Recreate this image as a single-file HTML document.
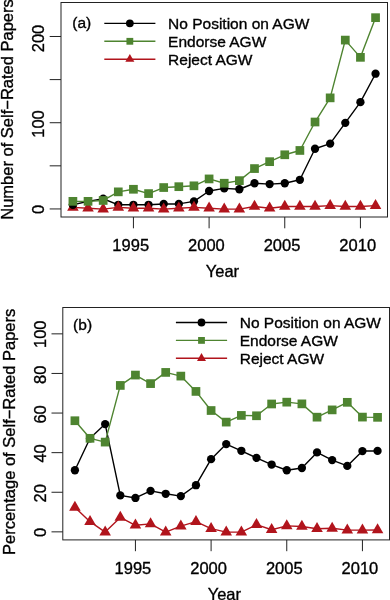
<!DOCTYPE html>
<html><head><meta charset="utf-8"><style>
html,body{margin:0;padding:0;background:#fff;width:390px;height:600px;overflow:hidden}
svg{display:block;will-change:transform}
text{font-family:"Liberation Sans",sans-serif}
</style></head><body>
<svg width="390" height="600" viewBox="0 0 390 600" font-family='"Liberation Sans", sans-serif' fill="#000">
<style>text{stroke:#000;stroke-width:0.35px}</style>
<polyline points="72.9,204.79 88.03,201.34 103.17,198.75 118.3,204.79 133.43,204.79 148.56,204.79 163.7,203.93 178.83,203.93 193.96,201.34 209.1,190.99 224.23,188.4 239.36,189.27 254.5,183.23 269.63,184.09 284.76,183.23 299.89,179.78 315.03,148.74 330.16,143.57 345.29,122.87 360.43,102.17 375.56,73.72" fill="none" stroke="#000" stroke-width="1.4" stroke-linejoin="round"/>
<circle cx="72.9" cy="204.79" r="4.15" fill="#000"/>
<circle cx="88.03" cy="201.34" r="4.15" fill="#000"/>
<circle cx="103.17" cy="198.75" r="4.15" fill="#000"/>
<circle cx="118.3" cy="204.79" r="4.15" fill="#000"/>
<circle cx="133.43" cy="204.79" r="4.15" fill="#000"/>
<circle cx="148.56" cy="204.79" r="4.15" fill="#000"/>
<circle cx="163.7" cy="203.93" r="4.15" fill="#000"/>
<circle cx="178.83" cy="203.93" r="4.15" fill="#000"/>
<circle cx="193.96" cy="201.34" r="4.15" fill="#000"/>
<circle cx="209.1" cy="190.99" r="4.15" fill="#000"/>
<circle cx="224.23" cy="188.4" r="4.15" fill="#000"/>
<circle cx="239.36" cy="189.27" r="4.15" fill="#000"/>
<circle cx="254.5" cy="183.23" r="4.15" fill="#000"/>
<circle cx="269.63" cy="184.09" r="4.15" fill="#000"/>
<circle cx="284.76" cy="183.23" r="4.15" fill="#000"/>
<circle cx="299.89" cy="179.78" r="4.15" fill="#000"/>
<circle cx="315.03" cy="148.74" r="4.15" fill="#000"/>
<circle cx="330.16" cy="143.57" r="4.15" fill="#000"/>
<circle cx="345.29" cy="122.87" r="4.15" fill="#000"/>
<circle cx="360.43" cy="102.17" r="4.15" fill="#000"/>
<circle cx="375.56" cy="73.72" r="4.15" fill="#000"/>
<polyline points="72.9,207.38 88.03,208.24 103.17,209.1 118.3,207.38 133.43,208.24 148.56,208.24 163.7,209.1 178.83,208.24 193.96,207.38 209.1,208.24 224.23,209.1 239.36,209.1 254.5,206.51 269.63,208.24 284.76,206.51 299.89,206.51 315.03,206.51 330.16,205.65 345.29,206.51 360.43,206.51 375.56,205.65" fill="none" stroke="#b1141c" stroke-width="1.4" stroke-linejoin="round"/>
<polygon points="72.9,200.7 78.68,210.71 67.12,210.71" fill="#b1141c"/>
<polygon points="88.03,201.57 93.81,211.57 82.26,211.57" fill="#b1141c"/>
<polygon points="103.17,202.43 108.94,212.44 97.39,212.44" fill="#b1141c"/>
<polygon points="118.3,200.7 124.08,210.71 112.52,210.71" fill="#b1141c"/>
<polygon points="133.43,201.57 139.21,211.57 127.65,211.57" fill="#b1141c"/>
<polygon points="148.56,201.57 154.34,211.57 142.79,211.57" fill="#b1141c"/>
<polygon points="163.7,202.43 169.48,212.44 157.92,212.44" fill="#b1141c"/>
<polygon points="178.83,201.57 184.61,211.57 173.05,211.57" fill="#b1141c"/>
<polygon points="193.96,200.7 199.74,210.71 188.19,210.71" fill="#b1141c"/>
<polygon points="209.1,201.57 214.87,211.57 203.32,211.57" fill="#b1141c"/>
<polygon points="224.23,202.43 230.01,212.44 218.45,212.44" fill="#b1141c"/>
<polygon points="239.36,202.43 245.14,212.44 233.59,212.44" fill="#b1141c"/>
<polygon points="254.5,199.84 260.27,209.85 248.72,209.85" fill="#b1141c"/>
<polygon points="269.63,201.57 275.41,211.57 263.85,211.57" fill="#b1141c"/>
<polygon points="284.76,199.84 290.54,209.85 278.98,209.85" fill="#b1141c"/>
<polygon points="299.89,199.84 305.67,209.85 294.12,209.85" fill="#b1141c"/>
<polygon points="315.03,199.84 320.81,209.85 309.25,209.85" fill="#b1141c"/>
<polygon points="330.16,198.98 335.94,208.99 324.38,208.99" fill="#b1141c"/>
<polygon points="345.29,199.84 351.07,209.85 339.52,209.85" fill="#b1141c"/>
<polygon points="360.43,199.84 366.2,209.85 354.65,209.85" fill="#b1141c"/>
<polygon points="375.56,198.98 381.34,208.99 369.78,208.99" fill="#b1141c"/>
<circle cx="72.9" cy="204.79" r="4.15" fill="#000"/>
<polyline points="72.9,201.34 88.03,201.34 103.17,200.48 118.3,191.85 133.43,189.27 148.56,193.58 163.7,187.54 178.83,186.68 193.96,185.82 209.1,178.92 224.23,183.23 239.36,180.64 254.5,168.57 269.63,161.67 284.76,154.78 299.89,150.46 315.03,122.01 330.16,97.86 345.29,40.09 360.43,57.34 375.56,17.67" fill="none" stroke="#4e8430" stroke-width="1.4" stroke-linejoin="round"/>
<rect x="68.55" y="196.99" width="8.7" height="8.7" fill="#4e8430"/>
<rect x="83.68" y="196.99" width="8.7" height="8.7" fill="#4e8430"/>
<rect x="98.82" y="196.13" width="8.7" height="8.7" fill="#4e8430"/>
<rect x="113.95" y="187.5" width="8.7" height="8.7" fill="#4e8430"/>
<rect x="129.08" y="184.92" width="8.7" height="8.7" fill="#4e8430"/>
<rect x="144.22" y="189.23" width="8.7" height="8.7" fill="#4e8430"/>
<rect x="159.35" y="183.19" width="8.7" height="8.7" fill="#4e8430"/>
<rect x="174.48" y="182.33" width="8.7" height="8.7" fill="#4e8430"/>
<rect x="189.61" y="181.47" width="8.7" height="8.7" fill="#4e8430"/>
<rect x="204.75" y="174.57" width="8.7" height="8.7" fill="#4e8430"/>
<rect x="219.88" y="178.88" width="8.7" height="8.7" fill="#4e8430"/>
<rect x="235.01" y="176.29" width="8.7" height="8.7" fill="#4e8430"/>
<rect x="250.15" y="164.22" width="8.7" height="8.7" fill="#4e8430"/>
<rect x="265.28" y="157.32" width="8.7" height="8.7" fill="#4e8430"/>
<rect x="280.41" y="150.43" width="8.7" height="8.7" fill="#4e8430"/>
<rect x="295.54" y="146.11" width="8.7" height="8.7" fill="#4e8430"/>
<rect x="310.68" y="117.66" width="8.7" height="8.7" fill="#4e8430"/>
<rect x="325.81" y="93.51" width="8.7" height="8.7" fill="#4e8430"/>
<rect x="340.94" y="35.74" width="8.7" height="8.7" fill="#4e8430"/>
<rect x="356.08" y="52.99" width="8.7" height="8.7" fill="#4e8430"/>
<rect x="371.21" y="13.32" width="8.7" height="8.7" fill="#4e8430"/>
<rect x="61" y="2.5" width="326.5" height="214.5" fill="none" stroke="#222" stroke-width="1"/>
<line x1="133.43" y1="217" x2="133.43" y2="228.3" stroke="#222" stroke-width="1"/>
<text x="130.73" y="250.6" text-anchor="middle" font-size="16.5">1995</text>
<line x1="209.1" y1="217" x2="209.1" y2="228.3" stroke="#222" stroke-width="1"/>
<text x="206.4" y="250.6" text-anchor="middle" font-size="16.5">2000</text>
<line x1="284.76" y1="217" x2="284.76" y2="228.3" stroke="#222" stroke-width="1"/>
<text x="282.06" y="250.6" text-anchor="middle" font-size="16.5">2005</text>
<line x1="360.43" y1="217" x2="360.43" y2="228.3" stroke="#222" stroke-width="1"/>
<text x="357.73" y="250.6" text-anchor="middle" font-size="16.5">2010</text>
<line x1="61" y1="208.95" x2="49.7" y2="208.95" stroke="#222" stroke-width="1"/>
<text transform="translate(43.55,209.4) rotate(-90)" text-anchor="middle" font-size="16.5">0</text>
<line x1="61" y1="122.72" x2="49.7" y2="122.72" stroke="#222" stroke-width="1"/>
<text transform="translate(43.55,123.97) rotate(-90)" text-anchor="middle" font-size="16.5">100</text>
<line x1="61" y1="36.49" x2="49.7" y2="36.49" stroke="#222" stroke-width="1"/>
<text transform="translate(43.55,38.49) rotate(-90)" text-anchor="middle" font-size="16.5">200</text>
<line x1="61" y1="165.83" x2="49.7" y2="165.83" stroke="#222" stroke-width="1"/>
<line x1="61" y1="79.6" x2="49.7" y2="79.6" stroke="#222" stroke-width="1"/>
<text x="222.45" y="276.5" text-anchor="middle" font-size="16.5">Year</text>
<text transform="translate(12.5,109.5) rotate(-90)" text-anchor="middle" font-size="16.5">Number of Self−Rated Papers</text>
<line x1="104.3" y1="23.35" x2="155.4" y2="23.35" stroke="#000" stroke-width="1.4"/>
<circle cx="129.85" cy="23.35" r="3.9" fill="#000"/>
<text x="168.1" y="28.8" font-size="15.5">No Position on AGW</text>
<line x1="104.3" y1="41.3" x2="155.4" y2="41.3" stroke="#4e8430" stroke-width="1.4"/>
<rect x="126.45" y="37.9" width="6.8" height="6.8" fill="#4e8430"/>
<text x="168.1" y="46.75" font-size="15.5">Endorse AGW</text>
<line x1="104.3" y1="59.25" x2="155.4" y2="59.25" stroke="#b1141c" stroke-width="1.4"/>
<polygon points="129.85,54.04 134.36,61.85 125.34,61.85" fill="#b1141c"/>
<text x="168.1" y="64.7" font-size="15.5">Reject AGW</text>
<text x="72.3" y="27.65" font-size="15.5">(a)</text>
<polyline points="74.9,470.23 90.03,438.31 105.17,424.1 120.3,495.43 135.43,497.96 150.56,490.85 165.7,493.78 180.83,496.1 195.96,485.21 211.1,459.15 226.23,444.1 241.36,450.78 256.5,457.85 271.63,464.55 286.76,470.23 301.89,467.99 317.03,452.44 332.16,460.1 347.29,465.88 362.43,451.07 377.56,450.94" fill="none" stroke="#000" stroke-width="1.4" stroke-linejoin="round"/>
<circle cx="74.9" cy="470.23" r="4.15" fill="#000"/>
<circle cx="90.03" cy="438.31" r="4.15" fill="#000"/>
<circle cx="105.17" cy="424.1" r="4.15" fill="#000"/>
<circle cx="120.3" cy="495.43" r="4.15" fill="#000"/>
<circle cx="135.43" cy="497.96" r="4.15" fill="#000"/>
<circle cx="150.56" cy="490.85" r="4.15" fill="#000"/>
<circle cx="165.7" cy="493.78" r="4.15" fill="#000"/>
<circle cx="180.83" cy="496.1" r="4.15" fill="#000"/>
<circle cx="195.96" cy="485.21" r="4.15" fill="#000"/>
<circle cx="211.1" cy="459.15" r="4.15" fill="#000"/>
<circle cx="226.23" cy="444.1" r="4.15" fill="#000"/>
<circle cx="241.36" cy="450.78" r="4.15" fill="#000"/>
<circle cx="256.5" cy="457.85" r="4.15" fill="#000"/>
<circle cx="271.63" cy="464.55" r="4.15" fill="#000"/>
<circle cx="286.76" cy="470.23" r="4.15" fill="#000"/>
<circle cx="301.89" cy="467.99" r="4.15" fill="#000"/>
<circle cx="317.03" cy="452.44" r="4.15" fill="#000"/>
<circle cx="332.16" cy="460.1" r="4.15" fill="#000"/>
<circle cx="347.29" cy="465.88" r="4.15" fill="#000"/>
<circle cx="362.43" cy="451.07" r="4.15" fill="#000"/>
<circle cx="377.56" cy="450.94" r="4.15" fill="#000"/>
<polyline points="74.9,507.35 90.03,521.68 105.17,532.1 120.3,517.43 135.43,525.27 150.56,523.85 165.7,532.1 180.83,526.1 195.96,521.68 211.1,528.63 226.23,532.1 241.36,532.1 256.5,524.68 271.63,529.77 286.76,525.91 301.89,526.44 317.03,528.69 332.16,528.31 347.29,530.11 362.43,530.14 377.56,530.03" fill="none" stroke="#b1141c" stroke-width="1.4" stroke-linejoin="round"/>
<polygon points="74.9,500.68 80.68,510.69 69.12,510.69" fill="#b1141c"/>
<polygon points="90.03,515.01 95.81,525.01 84.26,525.01" fill="#b1141c"/>
<polygon points="105.17,525.43 110.94,535.44 99.39,535.44" fill="#b1141c"/>
<polygon points="120.3,510.76 126.08,520.77 114.52,520.77" fill="#b1141c"/>
<polygon points="135.43,518.6 141.21,528.61 129.65,528.61" fill="#b1141c"/>
<polygon points="150.56,517.18 156.34,527.19 144.79,527.19" fill="#b1141c"/>
<polygon points="165.7,525.43 171.48,535.44 159.92,535.44" fill="#b1141c"/>
<polygon points="180.83,519.43 186.61,529.44 175.05,529.44" fill="#b1141c"/>
<polygon points="195.96,515.01 201.74,525.01 190.19,525.01" fill="#b1141c"/>
<polygon points="211.1,521.95 216.87,531.96 205.32,531.96" fill="#b1141c"/>
<polygon points="226.23,525.43 232.01,535.44 220.45,535.44" fill="#b1141c"/>
<polygon points="241.36,525.43 247.14,535.44 235.59,535.44" fill="#b1141c"/>
<polygon points="256.5,518 262.27,528.01 250.72,528.01" fill="#b1141c"/>
<polygon points="271.63,523.1 277.41,533.11 265.85,533.11" fill="#b1141c"/>
<polygon points="286.76,519.24 292.54,529.25 280.98,529.25" fill="#b1141c"/>
<polygon points="301.89,519.77 307.67,529.78 296.12,529.78" fill="#b1141c"/>
<polygon points="317.03,522.01 322.81,532.02 311.25,532.02" fill="#b1141c"/>
<polygon points="332.16,521.64 337.94,531.65 326.38,531.65" fill="#b1141c"/>
<polygon points="347.29,523.44 353.07,533.45 341.52,533.45" fill="#b1141c"/>
<polygon points="362.43,523.47 368.2,533.48 356.65,533.48" fill="#b1141c"/>
<polygon points="377.56,523.36 383.34,533.37 371.78,533.37" fill="#b1141c"/>
<polyline points="74.9,420.73 90.03,438.31 105.17,442.1 120.3,385.43 135.43,375.07 150.56,383.6 165.7,372.42 180.83,376.1 195.96,391.42 211.1,410.52 226.23,422.1 241.36,415.42 256.5,415.78 271.63,403.98 286.76,402.16 301.89,403.87 317.03,417.17 332.16,409.89 347.29,402.31 362.43,417.09 377.56,417.33" fill="none" stroke="#4e8430" stroke-width="1.4" stroke-linejoin="round"/>
<rect x="70.55" y="416.38" width="8.7" height="8.7" fill="#4e8430"/>
<rect x="85.68" y="433.96" width="8.7" height="8.7" fill="#4e8430"/>
<rect x="100.82" y="437.75" width="8.7" height="8.7" fill="#4e8430"/>
<rect x="115.95" y="381.08" width="8.7" height="8.7" fill="#4e8430"/>
<rect x="131.08" y="370.72" width="8.7" height="8.7" fill="#4e8430"/>
<rect x="146.22" y="379.25" width="8.7" height="8.7" fill="#4e8430"/>
<rect x="161.35" y="368.07" width="8.7" height="8.7" fill="#4e8430"/>
<rect x="176.48" y="371.75" width="8.7" height="8.7" fill="#4e8430"/>
<rect x="191.61" y="387.07" width="8.7" height="8.7" fill="#4e8430"/>
<rect x="206.75" y="406.17" width="8.7" height="8.7" fill="#4e8430"/>
<rect x="221.88" y="417.75" width="8.7" height="8.7" fill="#4e8430"/>
<rect x="237.01" y="411.07" width="8.7" height="8.7" fill="#4e8430"/>
<rect x="252.15" y="411.43" width="8.7" height="8.7" fill="#4e8430"/>
<rect x="267.28" y="399.63" width="8.7" height="8.7" fill="#4e8430"/>
<rect x="282.41" y="397.81" width="8.7" height="8.7" fill="#4e8430"/>
<rect x="297.54" y="399.52" width="8.7" height="8.7" fill="#4e8430"/>
<rect x="312.68" y="412.82" width="8.7" height="8.7" fill="#4e8430"/>
<rect x="327.81" y="405.54" width="8.7" height="8.7" fill="#4e8430"/>
<rect x="342.94" y="397.96" width="8.7" height="8.7" fill="#4e8430"/>
<rect x="358.08" y="412.74" width="8.7" height="8.7" fill="#4e8430"/>
<rect x="373.21" y="412.98" width="8.7" height="8.7" fill="#4e8430"/>
<rect x="62.8" y="307.5" width="326.7" height="232.4" fill="none" stroke="#222" stroke-width="1"/>
<line x1="135.43" y1="539.9" x2="135.43" y2="551.2" stroke="#222" stroke-width="1"/>
<text x="132.93" y="573.6" text-anchor="middle" font-size="16.5">1995</text>
<line x1="211.1" y1="539.9" x2="211.1" y2="551.2" stroke="#222" stroke-width="1"/>
<text x="208.6" y="573.6" text-anchor="middle" font-size="16.5">2000</text>
<line x1="286.76" y1="539.9" x2="286.76" y2="551.2" stroke="#222" stroke-width="1"/>
<text x="284.26" y="573.6" text-anchor="middle" font-size="16.5">2005</text>
<line x1="362.43" y1="539.9" x2="362.43" y2="551.2" stroke="#222" stroke-width="1"/>
<text x="359.93" y="573.6" text-anchor="middle" font-size="16.5">2010</text>
<line x1="62.8" y1="531.85" x2="51.5" y2="531.85" stroke="#222" stroke-width="1"/>
<text transform="translate(45.55,532.5) rotate(-90)" text-anchor="middle" font-size="16.5">0</text>
<line x1="62.8" y1="492.25" x2="51.5" y2="492.25" stroke="#222" stroke-width="1"/>
<text transform="translate(45.55,493.33) rotate(-90)" text-anchor="middle" font-size="16.5">20</text>
<line x1="62.8" y1="452.65" x2="51.5" y2="452.65" stroke="#222" stroke-width="1"/>
<text transform="translate(45.55,453.45) rotate(-90)" text-anchor="middle" font-size="16.5">40</text>
<line x1="62.8" y1="413.05" x2="51.5" y2="413.05" stroke="#222" stroke-width="1"/>
<text transform="translate(45.55,414.4) rotate(-90)" text-anchor="middle" font-size="16.5">60</text>
<line x1="62.8" y1="373.45" x2="51.5" y2="373.45" stroke="#222" stroke-width="1"/>
<text transform="translate(45.55,374.73) rotate(-90)" text-anchor="middle" font-size="16.5">80</text>
<line x1="62.8" y1="333.85" x2="51.5" y2="333.85" stroke="#222" stroke-width="1"/>
<text transform="translate(45.55,334.25) rotate(-90)" text-anchor="middle" font-size="16.5">100</text>
<text x="224.35" y="599.6" text-anchor="middle" font-size="16.5">Year</text>
<text transform="translate(14.8,431.9) rotate(-90)" text-anchor="middle" font-size="16.5">Percentage of Self−Rated Papers</text>
<line x1="175.9" y1="322.5" x2="227.1" y2="322.5" stroke="#000" stroke-width="1.4"/>
<circle cx="201.5" cy="322.5" r="3.9" fill="#000"/>
<text x="239.7" y="327.85" font-size="15.5">No Position on AGW</text>
<line x1="175.9" y1="340.4" x2="227.1" y2="340.4" stroke="#4e8430" stroke-width="1.4"/>
<rect x="198.1" y="337" width="6.8" height="6.8" fill="#4e8430"/>
<text x="239.7" y="345.75" font-size="15.5">Endorse AGW</text>
<line x1="175.9" y1="358.3" x2="227.1" y2="358.3" stroke="#b1141c" stroke-width="1.4"/>
<polygon points="201.5,353.09 206.01,360.9 196.99,360.9" fill="#b1141c"/>
<text x="239.7" y="363.65" font-size="15.5">Reject AGW</text>
<text x="73.1" y="330.3" font-size="15.5">(b)</text>
</svg>
</body></html>
